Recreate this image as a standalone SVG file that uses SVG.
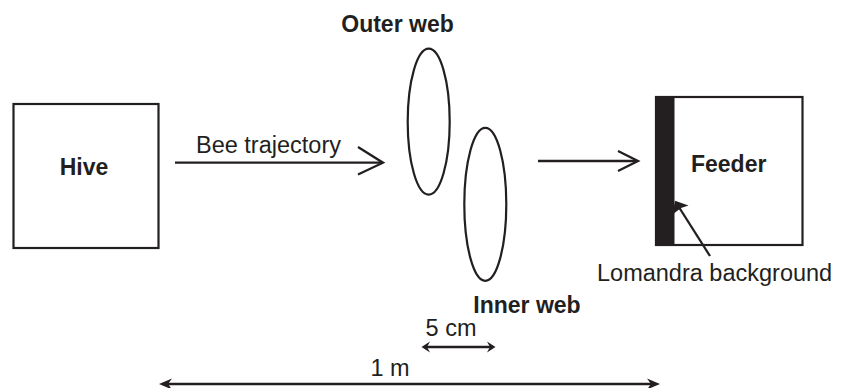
<svg xmlns="http://www.w3.org/2000/svg" width="851" height="388" viewBox="0 0 851 388">
<style>
text{font-family:"Liberation Sans",Arial,Helvetica,sans-serif;fill:#231f20}
.b{font-weight:bold;font-size:23px}
.r{font-size:23.5px}
.shape{fill:#fff;stroke:#231f20;stroke-width:2.2}
.ln{fill:none;stroke:#231f20;stroke-width:2.3;stroke-linecap:butt}
.head{fill:none;stroke:#231f20;stroke-width:2.3;stroke-linejoin:miter}
.barb{fill:#231f20;stroke:none}
</style>
<rect width="851" height="388" fill="#fff"/>
<g id="hive">
<rect class="shape" x="13.5" y="104" width="145" height="144"/>
<text class="b" x="84" y="175" text-anchor="middle">Hive</text>
</g>
<g id="outer-web">
<ellipse class="shape" cx="428.7" cy="121.7" rx="21" ry="73"/>
<text class="b" x="397.5" y="32" text-anchor="middle">Outer web</text>
</g>
<g id="inner-web">
<ellipse class="shape" cx="485.3" cy="204.3" rx="21" ry="76.5"/>
<text class="b" x="527" y="313" text-anchor="middle">Inner web</text>
</g>
<g id="feeder">
<rect class="shape" x="656" y="97" width="146.5" height="148"/>
<rect x="655" y="96" width="19.5" height="150" fill="#231f20"/>
<text class="b" x="728.7" y="171.7" text-anchor="middle">Feeder</text>
</g>
<g id="lomandra-label">
<text class="r" x="597" y="281">Lomandra background</text>
</g>
<g id="connectors">
<line class="ln" x1="175" y1="162.7" x2="382" y2="162.7"/>
<path class="head" d="M358 147 L383 162.7 L358 174.5"/>
<text class="r" x="268.5" y="153" text-anchor="middle" font-size="24">Bee trajectory</text>
<line class="ln" x1="538" y1="161" x2="637" y2="161"/>
<path class="head" d="M618 151 L638 161 L618 171"/>
<line class="ln" x1="710" y1="256" x2="676" y2="202.5"/>
<path class="barb" d="M675 200.7 L688.5 205.5 L681 208 L672.5 214.5 Z"/>
<line class="ln" x1="426" y1="347" x2="491" y2="347"/>
<path class="barb" d="M421.5 347 L430 341.5 L427 347 L430 352.5 Z"/>
<path class="barb" d="M495.5 347 L487 341.5 L490 347 L487 352.5 Z"/>
<text class="r" x="451" y="336" text-anchor="middle" font-size="22">5 cm</text>
<line class="ln" x1="164" y1="384" x2="655" y2="384"/>
<path class="barb" d="M159 384 L172 378.5 L168 384 L172 389.5 Z"/>
<path class="barb" d="M660 384 L647 378.5 L651 384 L647 389.5 Z"/>
<text class="r" x="390" y="376" text-anchor="middle" font-size="22">1 m</text>
</g>
</svg>
